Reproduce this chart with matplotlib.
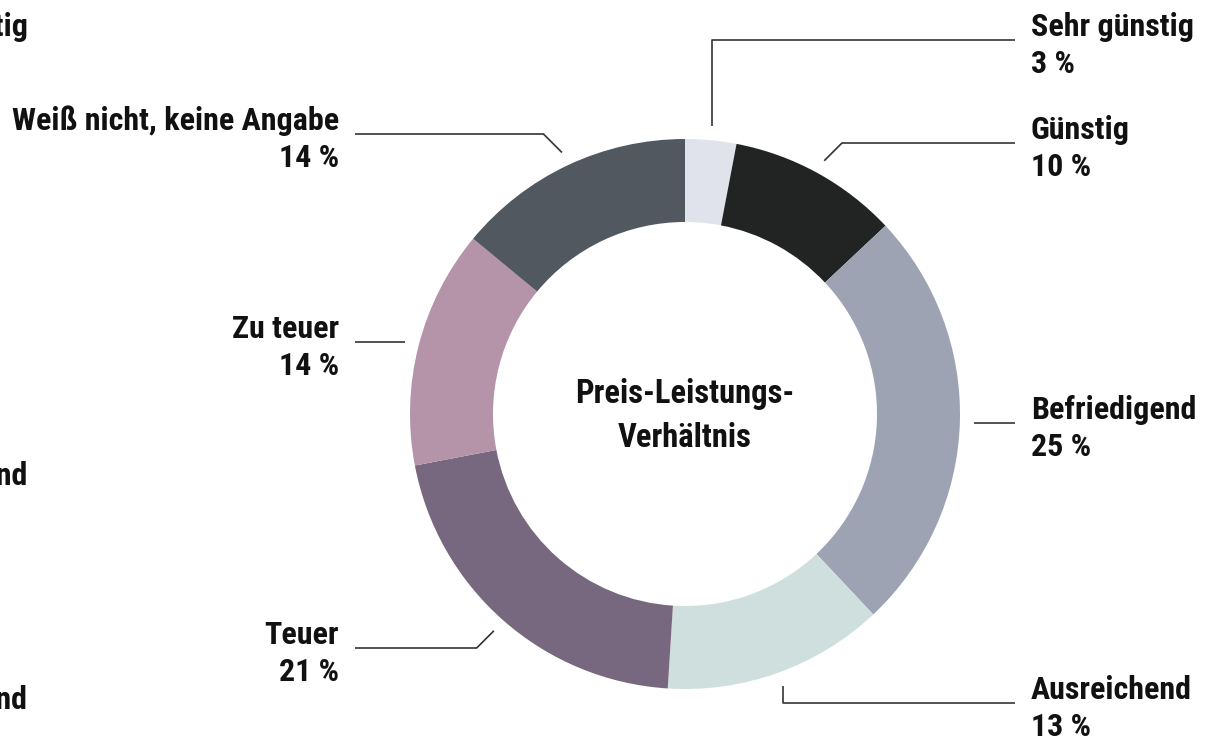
import matplotlib
matplotlib.use("Agg")
import matplotlib.pyplot as plt
from matplotlib import font_manager
import numpy as np

categories = ["Sehr günstig", "Günstig", "Befriedigend", "Ausreichend", "Teuer", "Zu teuer", "Weiß nicht, keine Angabe"]
values = [3, 10, 25, 13, 21, 14, 14]
pct_labels = ["3 %", "10 %", "25 %", "13 %", "21 %", "14 %", "14 %"]
colors = ["#e1e3ec", "#222423", "#9da3b3", "#cfdfdd", "#77687f", "#b593a8", "#525860"]
center_title = "Preis-Leistungs-\nVerhältnis"
cut_labels = ["Sehr günstig", "Befriedigend", "Ausreichend"]

names = {f.name for f in font_manager.fontManager.ttflist}
FAM = [f for f in ["Roboto Condensed", "Archivo Narrow", "DejaVu Sans"] if f in names] or ["DejaVu Sans"]
plt.rcParams['font.family'] = FAM

W, H = 1222, 740
fig = plt.figure(figsize=(W / 100, H / 100), dpi=100)
ax = fig.add_axes([0, 0, 1, 1])

cx, cy = 685, H - 414
R, width = 275, 83
wedges, _ = ax.pie(values, colors=colors, startangle=90, counterclock=False,
                   radius=R, center=(cx, cy),
                   wedgeprops=dict(width=width, linewidth=0))
ax.set_xlim(0, W)
ax.set_ylim(0, H)
ax.set_aspect('equal')
ax.axis('off')

# leader layout: (line y in image px, mode, side)
layout = [(40, 'v', 'r'), (143, 'd', 'r'), (423, 'h', 'r'), (703, 'v', 'r'),
          (648, 'd', 'l'), (342, 'h', 'l'), (134, 'd', 'l')]
fs = 23
r_lead = 289
for w, name, pct, (ly, mode, side) in zip(wedges, categories, pct_labels, layout):
    ang = np.deg2rad((w.theta1 + w.theta2) / 2)
    x0 = cx + r_lead * np.cos(ang)
    y0 = cy + r_lead * np.sin(ang)
    yl = H - ly
    pts = [(x0, y0)]
    if mode == 'v':
        pts.append((x0, yl))
    elif mode == 'd':
        dy = abs(yl - y0)
        pts.append((x0 + (dy if side == 'r' else -dy), yl))
    else:
        pts = [(x0, yl)]
    xe = 1015 if side == 'r' else 355
    pts.append((xe, yl))
    xs, ys = zip(*pts)
    ax.plot(xs, ys, color="#333333", lw=1.2, solid_capstyle='butt')
    if side == 'r':
        tx, ha = 1031, 'left'
    else:
        tx, ha = 339, 'right'
    ax.text(tx, H - (ly - 4), name, ha=ha, va='baseline', fontsize=fs, fontweight='bold', color='#111111')
    ax.text(tx, H - (ly + 33), pct, ha=ha, va='baseline', fontsize=fs, fontweight='bold', color='#111111')

ax.text(cx, H - 416, center_title, ha='center', va='center', fontsize=fs + 0.5, fontweight='bold',
        color='#111111', linespacing=1.45)

for lab, yb in zip(cut_labels, [36, 485, 709]):
    ax.text(28, H - yb, lab, ha='right', va='baseline', fontsize=fs, fontweight='bold', color='#111111', clip_on=False)

fig.savefig("out.png", dpi=100, facecolor='white')
